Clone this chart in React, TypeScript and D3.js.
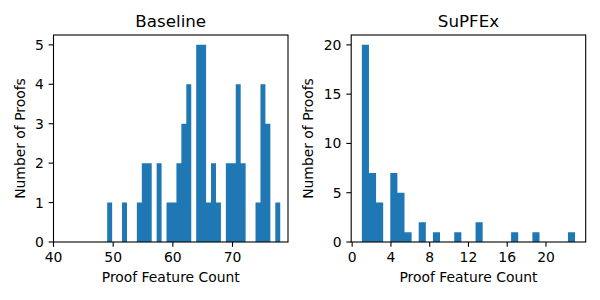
import React, { useEffect, useRef } from 'react';
import * as d3 from 'd3';

// histogram counts
const baselineRange = [49, 78];
const baselineCounts = [
  1, 0, 0, 1, 0, 0, 1, 2, 2, 0, 2, 0, 1, 1, 2, 3, 4, 0, 5, 5,
  1, 2, 1, 0, 2, 2, 4, 2, 0, 0, 1, 4, 3, 0, 1,
];
const baselineXTicks = [40, 50, 60, 70];
const baselineYTicks = [0, 1, 2, 3, 4, 5];

const suRange = [1, 23];
const suCounts = [
  20, 7, 4, 0, 7, 5, 1, 0, 2, 0, 1, 0, 0, 1, 0, 0, 2, 0, 0, 0,
  0, 1, 0, 0, 1, 0, 0, 0, 0, 1,
];
const suXTicks = [0, 4, 8, 12, 16, 20];
const suYTicks = [0, 5, 10, 15, 20];

const FONT = '"DejaVu Sans", sans-serif';

interface PanelProps {
  title: string;
  range: number[];
  counts: number[];
  xDomain: [number, number];
  yMax: number;
  xTicks: number[];
  yTicks: number[];
  left: number;
  ylabelX: number;
}

const panels: PanelProps[] = [
  {
    title: 'Baseline',
    range: baselineRange,
    counts: baselineCounts,
    xDomain: [40, 79.3],
    yMax: 5.25,
    xTicks: baselineXTicks,
    yTicks: baselineYTicks,
    left: 53.5,
    ylabelX: 25,
  },
  {
    title: 'SuPFEx',
    range: suRange,
    counts: suCounts,
    xDomain: [-0.1, 24.1],
    yMax: 21,
    xTicks: suXTicks,
    yTicks: suYTicks,
    left: 351.2,
    ylabelX: 313.3,
  },
];

export default function App() {
  const svgRef = useRef<SVGSVGElement>(null);

  useEffect(() => {
    if (!svgRef.current) return;
    const root = d3.select(svgRef.current);
    root.selectAll('*').remove();

    const top = 35;
    const bottom = 242;
    const width = 234.5;
    const tickLen = 4.86;
    const pad = 4.86;

    panels.forEach((p) => {
      const x = d3.scaleLinear().domain(p.xDomain).range([p.left, p.left + width]);
      const y = d3.scaleLinear().domain([0, p.yMax]).range([bottom, top]);
      const binW = (p.range[1] - p.range[0]) / p.counts.length;

      // step outline of the histogram: each bin holds its count until the next edge
      const steps: [number, number][] = p.counts.map((c, i) => [p.range[0] + i * binW, c]);
      steps.push([p.range[1], p.counts[p.counts.length - 1]]);

      const area = d3
        .area<[number, number]>()
        .x((d) => x(d[0]))
        .y0(y(0))
        .y1((d) => y(d[1]))
        .curve(d3.curveStepAfter);

      const g = root.append('g');

      g.append('path')
        .datum(steps)
        .attr('d', area)
        .attr('fill', '#1f77b4');

      // spines
      g.append('rect')
        .attr('x', p.left)
        .attr('y', top)
        .attr('width', width)
        .attr('height', bottom - top)
        .attr('fill', 'none')
        .attr('stroke', '#000')
        .attr('stroke-width', 1.1);

      // x ticks
      const xt = g.selectAll('g.xt').data(p.xTicks).enter().append('g')
        .attr('transform', (d) => `translate(${x(d)},0)`);
      xt.append('line')
        .attr('y1', bottom).attr('y2', bottom + tickLen)
        .attr('stroke', '#000').attr('stroke-width', 1.1);
      xt.append('text')
        .attr('y', bottom + tickLen + pad)
        .attr('dy', '0.71em')
        .attr('text-anchor', 'middle')
        .attr('font-family', FONT)
        .attr('font-size', 13.9)
        .text((d) => d);

      // y ticks
      const yt = g.selectAll('g.yt').data(p.yTicks).enter().append('g')
        .attr('transform', (d) => `translate(0,${y(d)})`);
      yt.append('line')
        .attr('x1', p.left - tickLen).attr('x2', p.left)
        .attr('stroke', '#000').attr('stroke-width', 1.1);
      yt.append('text')
        .attr('x', p.left - tickLen - pad)
        .attr('dy', '0.36em')
        .attr('text-anchor', 'end')
        .attr('font-family', FONT)
        .attr('font-size', 13.9)
        .text((d) => d);

      // labels
      g.append('text')
        .attr('x', p.left + width / 2)
        .attr('y', 26.5)
        .attr('text-anchor', 'middle')
        .attr('font-family', FONT)
        .attr('font-size', 16.7)
        .text(p.title);

      g.append('text')
        .attr('x', p.left + width / 2)
        .attr('y', 282)
        .attr('text-anchor', 'middle')
        .attr('font-family', FONT)
        .attr('font-size', 13.9)
        .text('Proof Feature Count');

      g.append('text')
        .attr('transform', `translate(${p.ylabelX},${(top + bottom) / 2}) rotate(-90)`)
        .attr('text-anchor', 'middle')
        .attr('font-family', FONT)
        .attr('font-size', 13.9)
        .text('Number of Proofs');
    });
  }, []);

  return (
    <svg
      ref={svgRef}
      width={600}
      height={300}
      style={{ position: 'absolute', left: 0, top: 0, background: '#fff' }}
    />
  );
}
